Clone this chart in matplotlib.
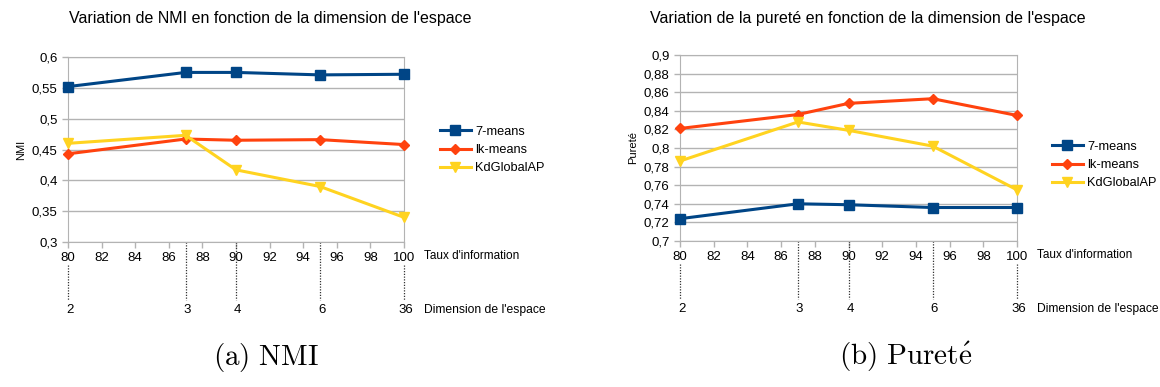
import matplotlib
matplotlib.use("Agg")
import matplotlib.pyplot as plt

# Donnees
taux_info = [80, 87, 90, 95, 100]
dimensions = ["2", "3", "4", "6", "36"]
series = ["7-means", "lk-means", "KdGlobalAP"]

nmi_7means = [0.552, 0.575, 0.575, 0.571, 0.572]
nmi_lkmeans = [0.443, 0.467, 0.465, 0.466, 0.458]
nmi_kdglobal = [0.460, 0.473, 0.417, 0.390, 0.340]

pur_7means = [0.724, 0.740, 0.739, 0.736, 0.736]
pur_lkmeans = [0.821, 0.836, 0.848, 0.853, 0.835]
pur_kdglobal = [0.786, 0.828, 0.819, 0.802, 0.755]

couleurs = ["#004586", "#ff420e", "#ffd320"]
marqueurs = ["s", "D", "v"]
tailles = [7, 5, 7.5]

plt.rcParams["font.family"] = ["Liberation Sans", "DejaVu Sans"]
plt.rcParams["mathtext.fontset"] = "cm"

W, H = 1160, 387
fig = plt.figure(figsize=(W / 100, H / 100), dpi=100)


def px(x0, y0, x1, y1):
    # conversion pixels -> coordonnees figure
    return [x0 / W, 1 - y1 / H, (x1 - x0) / W, (y1 - y0) / H]


def dessiner(rect, valeurs, ymin, ymax, pas, decimales, titre, ylabel, legende_x, legende_y, titre_x, legende_caption, caption_x):
    ax = fig.add_axes(px(*rect))
    for i, v in enumerate(valeurs):
        ax.plot(taux_info, v, color=couleurs[i], marker=marqueurs[i], markersize=tailles[i],
                linewidth=2.2, label=series[i], clip_on=False, zorder=3)
    ax.set_xlim(80, 100)
    ax.set_ylim(ymin, ymax)
    ax.set_xticks(range(80, 101, 2))
    yt = [ymin + k * pas for k in range(int(round((ymax - ymin) / pas)) + 1)]
    ax.set_yticks(yt)
    ax.set_yticklabels([("%g" % round(t, decimales)).replace(".", ",") for t in yt])
    ax.grid(axis="y", color="#b3b3b3", linewidth=1)
    ax.set_axisbelow(True)
    for s in ax.spines.values():
        s.set_color("#b3b3b3")
    ax.tick_params(colors="#b3b3b3", labelcolor="black", labelsize=9.5, length=4, width=1)
    ax.set_ylabel(ylabel, fontsize=8)

    # lignes pointillees vers la dimension de l'espace
    h = rect[3] - rect[1]
    tr = ax.get_xaxis_transform()
    for x, d in zip(taux_info, dimensions):
        debut = -23 / h if x in (80, 100) else 0
        ax.plot([x, x], [debut, -58 / h], transform=tr, color="#333333", linestyle=(0, (1, 1.2)),
                linewidth=0.9, clip_on=False)
        ax.text(x + 0.1, -68 / h, d, transform=tr, ha="center", va="center", fontsize=9.5)
    ax.text(1.06, -14 / h, "Taux d'information", transform=ax.transAxes, ha="left", va="center", fontsize=8.5)
    ax.text(1.06, -68 / h, "Dimension de l'espace", transform=ax.transAxes, ha="left", va="center", fontsize=8.7)

    fig.text(titre_x / W, 1 - 18 / H, titre, ha="center", va="center", fontsize=11.5)
    fig.legend(*ax.get_legend_handles_labels(), loc="center left",
               bbox_to_anchor=(legende_x / W, 1 - legende_y / H), frameon=False,
               fontsize=9.2, handlelength=2.4, labelspacing=0.5, handletextpad=0.35,
               borderaxespad=0, borderpad=0)
    fig.text(caption_x / W, 1 - 357 / H, legende_caption, ha="center", va="center", fontsize=21)


dessiner((68, 57, 404, 242), [nmi_7means, nmi_lkmeans, nmi_kdglobal], 0.3, 0.6, 0.05, 2,
         "Variation de NMI en fonction de la dimension de l'espace", "NMI", 440, 150, 270,
         r"$\mathrm{(a)\ NMI}$", 266)
dessiner((680, 55, 1017, 241), [pur_7means, pur_lkmeans, pur_kdglobal], 0.7, 0.9, 0.02, 2,
         "Variation de la pureté en fonction de la dimension de l'espace", "Pureté", 1052, 165, 868,
         r"$\mathrm{(b)\ Puret\acute{e}}$", 906)

fig.savefig("out.png", dpi=100)
